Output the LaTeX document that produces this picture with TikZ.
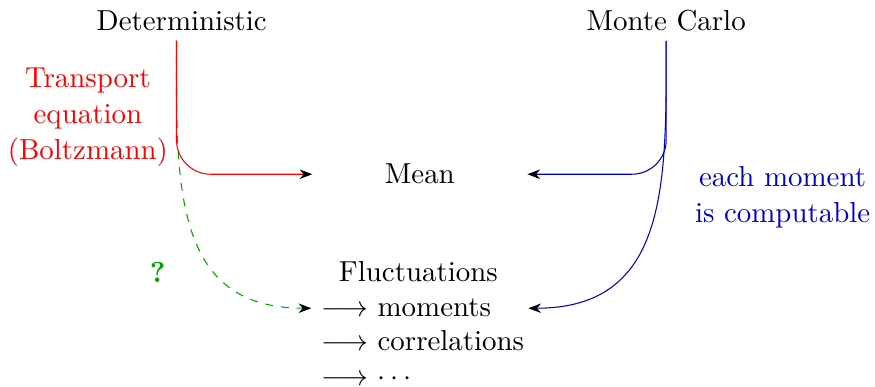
\documentclass[tikz,border=0pt,11pt]{standalone}
\usetikzlibrary{arrows.meta}
\begin{document}
\begin{tikzpicture}[x=1cm,y=1cm,
  link/.style={-{Stealth[black]}},
  item/.style={text width=2.62cm, align=left, anchor=base}]
\useasboundingbox (0,0) rectangle (11.65,-5.15);
\node[anchor=base] (det) at (2.42,-0.40) {Deterministic};
\node[anchor=base] (mc) at (8.87,-0.40) {Monte Carlo};
\node[red, align=center] (tr) at (1.17,-1.56) {Transport\\ equation\\ (Boltzmann)};
\node[blue!80!black, align=center] (ec) at (10.42,-2.63) {each moment\\ is computable};
\node[minimum width=2.85cm] (mean) at (5.59,-2.32) {Mean};
\node[anchor=base] (fl) at (5.57,-3.75) {Fluctuations};
\node[item] (mom) at (5.59,-4.22) {$\longrightarrow$ moments};
\node[item] (corr) at (5.59,-4.67) {\mbox{$\longrightarrow$ correlations}};
\node[item] (etc) at (5.59,-5.13) {$\longrightarrow$ $\cdots$};
\node[green!65!black] (q) at (2.10,-3.63) {\textbf{?}};
\draw[link, green!65!black, dashed] ([xshift=-2pt]det.south) to[out=-90,in=180,looseness=1.2] (mom.west);
\draw[link, red, rounded corners=13pt] ([xshift=-2pt]det.south) |- (mean.west);
\draw[link, blue!80!black, rounded corners=13pt] (mc.south) |- (mean.east);
\draw[link, blue!80!black] (mc.south) to[out=-90,in=0,looseness=1.2] (mom.east);
\end{tikzpicture}
\end{document}
